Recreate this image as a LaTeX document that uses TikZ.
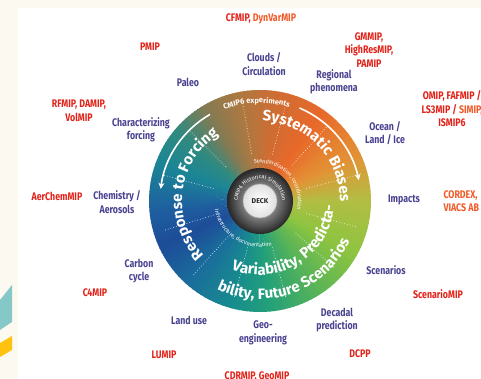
\documentclass[tikz,border=0pt]{standalone}
\usepackage{fontspec}
\newfontfamily\labelfont[FakeStretch=0.8]{Fira Sans}
\newfontfamily\wheelfont{Fira Sans}
\usetikzlibrary{decorations.text, arrows.meta}
\definecolor{cream}{HTML}{FCFAF0}
\definecolor{topicblue}{HTML}{4A4391}
\definecolor{mipred}{HTML}{E2231A}
\definecolor{miporange}{HTML}{F15A29}
\definecolor{stripteal}{HTML}{86C8C8}
\definecolor{stripyellow}{HTML}{FFC20E}
\definecolor{ring000}{HTML}{B2BE44}
\definecolor{ring025}{HTML}{E39235}
\definecolor{ring055}{HTML}{E8692A}
\definecolor{ring080}{HTML}{D06C32}
\definecolor{ring100}{HTML}{B07840}
\definecolor{ring120}{HTML}{857A52}
\definecolor{ring140}{HTML}{2F8A80}
\definecolor{ring160}{HTML}{1B8596}
\definecolor{ring185}{HTML}{1E5FA0}
\definecolor{ring205}{HTML}{1D4C98}
\definecolor{ring230}{HTML}{1A6E9C}
\definecolor{ring255}{HTML}{178C8E}
\definecolor{ring275}{HTML}{23A07A}
\definecolor{ring300}{HTML}{53B25A}
\definecolor{ring330}{HTML}{8CC440}
\newcommand\bigwheel{\wheelfont\bfseries\fontsize{15}{15}\selectfont}
\newcommand\smallwheel{\wheelfont\bfseries\fontsize{7.5}{8}\selectfont}
\newcommand\tinywheel{\wheelfont\fontsize{5.5}{6}\selectfont}
\tikzset{
  topic/.style={text=topicblue, font=\labelfont\bfseries\fontsize{11}{13.5}\selectfont, align=center},
  mip/.style={text=mipred, font=\labelfont\bfseries\fontsize{11}{13.5}\selectfont, align=center},
  rimtext/.style={decorate, decoration={text along path, text align=center, text color=white, text={#1}}},
  sector/.style={white, line width=0.7, dash pattern=on 0.8pt off 2pt, opacity=0.75},
  flow/.style={white, line width=1.6, -{Stealth[length=6pt,width=6pt]}}
}
\begin{document}
\begin{tikzpicture}[x=1pt, y=1pt]
  \useasboundingbox (0,0) rectangle (481,379);
  \clip (0,0) rectangle (481,379);
  \fill[cream] (0,0) rectangle (481,379);
  \fill[white] (18,0) rectangle (481,371);
  \fill[stripteal] (0,49) -- (12,57) -- (12,94) -- (0,79) -- cycle;
  \fill[stripyellow] (0,22) -- (12,29) -- (12,43) -- (0,36) -- cycle;

  \coordinate (hub) at (260,178);
  \begin{scope}[shift={(hub)}]
    \foreach \a/\b/\ca/\cb in {0/25/ring000/ring025, 25/55/ring025/ring055, 55/80/ring055/ring080,
        80/100/ring080/ring100, 100/120/ring100/ring120, 120/140/ring120/ring140, 140/160/ring140/ring160,
        160/185/ring160/ring185, 185/205/ring185/ring205, 205/230/ring205/ring230, 230/255/ring230/ring255,
        255/275/ring255/ring275, 275/300/ring275/ring300, 300/330/ring300/ring330, 330/360/ring330/ring000}{
      \foreach \i in {0,...,9}{
        \pgfmathsetmacro\ra{\a+\i*(\b-\a)/10}
        \pgfmathsetmacro\rs{(\b-\a)/10+0.5}
        \pgfmathsetmacro\rp{95-\i*10}
        \fill[fill=\ca!\rp!\cb] (0,0) -- (\ra:111) arc[start angle=\ra, delta angle=\rs, radius=111] -- cycle;
      }
    }
    \foreach \ang in {15,48,75,100,135,165,197,228,255,285,318,345}
      \draw[sector] (\ang:48) -- (\ang:100);

    \shade[inner color=black!15, outer color=black!85] (0,0) circle (33);
    \shade[inner color=white, outer color=black!12] (0,0) circle (17);
    \draw[black!35, line width=0.6] (0,0) circle (17);
    \node[font=\wheelfont\bfseries\fontsize{7}{7}\selectfont, text=black!85] (deck) at (0,0) {DECK};

    \path[rimtext={|\tinywheel|CMIP6 Historical Simulation}] (178:22) arc[start angle=178, end angle=2, radius=22];
    \path[rimtext={|\tinywheel|Standardization, coordination}] (130:38) arc[start angle=130, end angle=-45, radius=38];
    \path[rimtext={|\tinywheel|Infrastructure, documentation}] (140:46) arc[start angle=140, end angle=336, radius=46];
    \path[rimtext={|\smallwheel|CMIP6 experiments}] (140:98) arc[start angle=140, end angle=44, radius=98];

    \path[rimtext={|\bigwheel|Systematic Biases}] (150:80) arc[start angle=150, end angle=-62, radius=80];
    \path[rimtext={|\bigwheel|Response to Forcing}] (272:78) arc[start angle=272, end angle=74, radius=78];
    \path[rimtext={|\bigwheel|Variability, Predicta-}] (200:74) arc[start angle=200, end angle=404, radius=74];
    \path[rimtext={|\bigwheel|bility, Future Scenarios}] (190:98) arc[start angle=190, end angle=390, radius=98];

    \draw[flow] (67:101) arc[start angle=67, end angle=12, radius=101];
    \draw[flow] (120:100) arc[start angle=120, end angle=173, radius=100];
  \end{scope}

  \node[topic] (paleo) at (188,297) {Paleo};
  \node[topic] (forcing) at (141,249) {Characterizing\\forcing};
  \node[topic] (clouds) at (264,315) {Clouds /\\Circulation};
  \node[topic] (regional) at (334,297) {Regional\\phenomena};
  \node[topic] (ocean) at (385,246) {Ocean /\\Land / Ice};
  \node[topic] (impacts) at (404,179) {Impacts};
  \node[topic] (scen) at (386,109) {Scenarios};
  \node[topic] (decadal) at (337,59) {Decadal\\prediction};
  \node[topic] (geo) at (263,46) {Geo-\\engineering};
  \node[topic] (landuse) at (189,59) {Land use};
  \node[topic] (carbon) at (139,108) {Carbon\\cycle};
  \node[topic] (chem) at (117,177) {Chemistry /\\Aerosols};

  \node[mip] (cfmip) at (261,360) {CFMIP, \textcolor{miporange}{DynVarMIP}};
  \node[mip] (pmip) at (150,332) {PMIP};
  \node[mip] (rfmip) at (79,268) {RFMIP, DAMIP,\\VolMIP};
  \node[mip] (gmmip) at (369,329) {GMMIP,\\HighResMIP,\\PAMIP};
  \node[mip] (omip) at (452,270) {OMIP, FAFMIP /\\LS3MIP / \textcolor{miporange}{SIMIP,}\\ISMIP6};
  \node[mip, text=miporange, anchor=west, align=left] (cordex) at (440,178) {CORDEX,\\VIACS AB};
  \node[mip] (aerchem) at (57,183) {AerChemMIP};
  \node[mip] (cfour) at (95,86) {C4MIP};
  \node[mip] (lumip) at (164,24) {LUMIP};
  \node[mip] (cdrmip) at (257,2) {CDRMIP, GeoMIP};
  \node[mip] (dcpp) at (360,25) {DCPP};
  \node[mip] (scenmip) at (438,85) {ScenarioMIP};
\end{tikzpicture}
\end{document}
